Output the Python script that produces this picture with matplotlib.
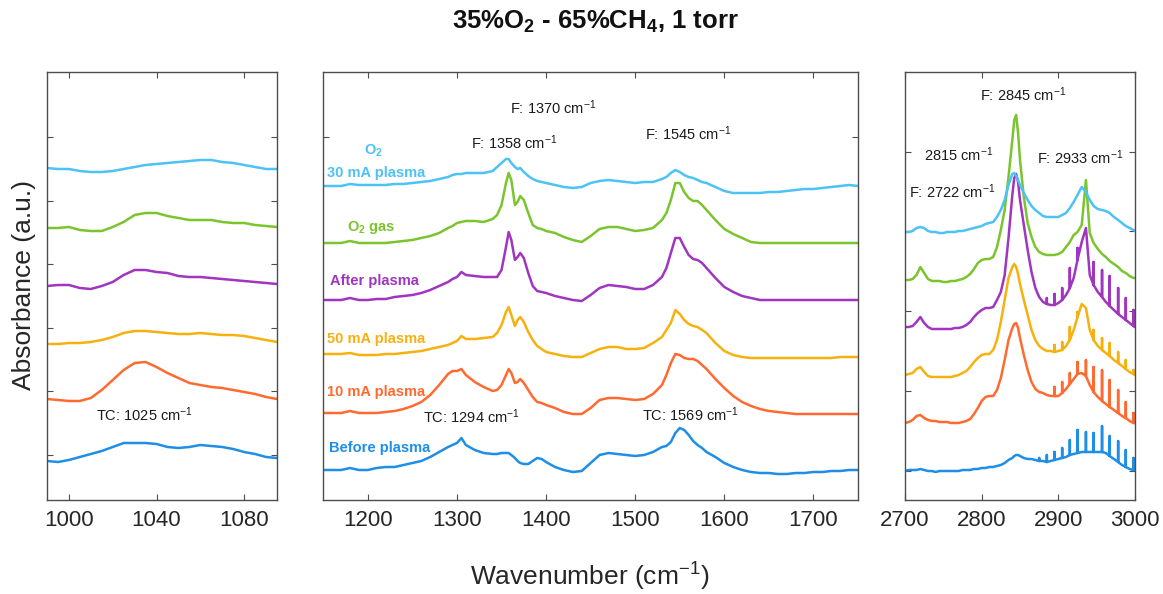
import matplotlib
matplotlib.use('Agg')
import matplotlib.pyplot as plt

plt.rcParams['font.family'] = ['Liberation Sans', 'DejaVu Sans']
plt.rcParams['mathtext.fontset'] = 'custom'
plt.rcParams['mathtext.rm'] = 'Liberation Sans'
plt.rcParams['mathtext.it'] = 'Liberation Sans:italic'
plt.rcParams['mathtext.bf'] = 'Liberation Sans:bold'

# traces, bottom to top
names = ['Before plasma', '10 mA plasma', '50 mA plasma', 'After plasma',
         r'O$_\mathbf{2}$ gas', '30 mA plasma']
colors = ['#1f8ee6', '#ff6a30', '#f7b10f', '#a035c0', '#7ac52e', '#4cc2f5']

# ---- 990-1095 cm-1 (absorbance, stacked, a.u.)
lo_x = [990, 995, 1000, 1005, 1010, 1015, 1020, 1025, 1030, 1035, 1040,
        1045, 1050, 1055, 1060, 1065, 1070, 1075, 1080, 1085, 1090, 1095]
lo_before = [39, 38, 40, 43, 46, 49, 53, 57, 57, 57, 56, 53, 52, 53, 55, 54, 53, 51, 48, 46, 43, 42]
lo_10ma = [101, 100, 99, 99, 102, 110, 120, 130, 137, 138, 133, 127, 122, 117, 115, 113, 112, 110, 108, 106, 103, 101]
lo_50ma = [156, 156, 157, 157, 158, 160, 163, 167, 169, 169, 168, 167, 166, 166, 167, 166, 165, 165, 164, 162, 160, 158]
lo_after = [214, 215, 215, 212, 211, 214, 218, 225, 230, 230, 228, 227, 224, 223, 223, 222, 221, 220, 219, 218, 217, 216]
lo_o2gas = [272, 272, 273, 270, 269, 269, 273, 278, 285, 287, 287, 284, 282, 280, 280, 280, 278, 277, 277, 275, 274, 273]
lo_o2plasma = [332, 331, 331, 329, 328, 328, 329, 331, 333, 335, 336, 337, 338, 339, 340, 340, 338, 337, 335, 333, 331, 331]

# ---- 1150-1750 cm-1
mid_x = [1150, 1160, 1170, 1180, 1190, 1200, 1210, 1220, 1230, 1240, 1250, 1260, 1270, 1280, 1290,
         1295, 1300, 1305, 1310, 1320, 1330, 1340,
         1345, 1350, 1355, 1358, 1361, 1365, 1368, 1371, 1375, 1380, 1385, 1390, 1395, 1400,
         1410, 1420, 1430, 1440, 1450, 1460, 1470, 1480, 1490, 1500, 1510, 1520,
         1530, 1535, 1540, 1545, 1550, 1555, 1560, 1565, 1570, 1575, 1580,
         1590, 1600, 1610, 1620, 1630, 1640, 1650, 1660, 1670, 1680, 1690, 1700, 1710, 1720, 1730, 1740, 1750]
mid_before = [30, 30, 30, 32, 30, 30, 32, 33, 33, 35, 37, 39, 43, 48, 53,
              55, 57, 62, 55, 50, 47, 46,
              46, 47, 47, 47, 45, 42, 39, 37, 36, 36, 39, 42, 41, 38,
              33, 30, 28, 29, 37, 45, 47, 46, 45, 44, 45, 48,
              53, 54, 58, 67, 72, 70, 65, 59, 55, 52, 48,
              43, 37, 33, 30, 28, 27, 27, 26, 26, 27, 27, 28, 28, 29, 29, 30, 30]
mid_10ma = [87, 87, 87, 89, 87, 87, 87, 88, 89, 91, 94, 98, 105, 115, 126,
            129, 129, 131, 125, 118, 113, 109,
            110, 115, 125, 131, 127, 117, 118, 121, 117, 110, 103, 98, 97, 95,
            92, 88, 86, 86, 92, 100, 102, 102, 101, 100, 101, 106,
            115, 125, 137, 146, 145, 142, 141, 141, 139, 135, 131,
            121, 112, 104, 98, 94, 91, 89, 88, 87, 86, 86, 86, 86, 86, 86, 86, 86]
mid_50ma = [146, 146, 146, 147, 145, 145, 145, 146, 146, 147, 148, 149, 151, 153, 155,
            157, 159, 164, 161, 161, 162, 163,
            167, 175, 188, 193, 185, 174, 180, 183, 178, 168, 160, 154, 151, 148,
            146, 144, 143, 143, 147, 151, 153, 153, 151, 151, 152, 157,
            163, 170, 177, 190, 186, 180, 176, 174, 173, 170, 167,
            157, 149, 145, 143, 142, 142, 142, 142, 142, 142, 142, 142, 142, 142, 143, 143, 143]
mid_after = [200, 200, 200, 202, 200, 200, 201, 201, 203, 204, 205, 207, 210, 214, 218,
             221, 223, 228, 225, 224, 223, 223,
             223, 230, 253, 268, 260, 240, 243, 247, 242, 227, 214, 209, 208, 207,
             204, 202, 200, 199, 205, 212, 215, 214, 213, 211, 211, 215,
             223, 232, 247, 262, 262, 253, 245, 241, 240, 237, 232,
             222, 213, 208, 204, 202, 200, 200, 200, 200, 200, 200, 200, 200, 200, 200, 200, 200]
mid_o2gas = [257, 257, 257, 259, 257, 257, 257, 257, 258, 259, 260, 262, 264, 267, 272,
             274, 277, 278, 279, 279, 278, 281,
             285, 295, 317, 327, 320, 295, 298, 304, 300, 287, 275, 272, 271, 269,
             267, 263, 260, 258, 264, 271, 273, 273, 271, 269, 270, 272,
             280, 287, 300, 317, 317, 308, 302, 299, 299, 295, 290,
             280, 271, 266, 262, 258, 257, 257, 257, 257, 257, 257, 257, 257, 257, 257, 257, 257]
mid_o2plasma = [314, 314, 314, 316, 315, 315, 315, 315, 316, 316, 317, 318, 319, 321, 323,
                325, 326, 326, 327, 327, 327, 329,
                333, 337, 341, 341, 337, 333, 331, 332, 328, 324, 321, 319, 318, 317,
                315, 313, 312, 313, 317, 319, 320, 319, 318, 317, 318, 318,
                321, 323, 327, 330, 328, 325, 323, 322, 320, 318, 317,
                313, 309, 307, 307, 307, 307, 308, 308, 309, 310, 311, 311, 312, 313, 314, 315, 314]

# ---- 2700-3000 cm-1
hi_x = [2700, 2705, 2710, 2715, 2720, 2725, 2730, 2735, 2740, 2745, 2750, 2755, 2760, 2765, 2770,
        2775, 2780, 2785, 2790, 2795, 2800, 2805, 2810, 2815, 2820, 2825, 2830, 2835, 2840,
        2842.5, 2845, 2847.5,
        2850, 2855, 2860, 2865, 2870, 2875, 2880, 2885, 2890, 2895, 2900, 2905, 2910, 2915, 2920, 2925,
        2930.5, 2936, 2941, 2946, 2951.5, 2957, 2962, 2967, 2972.5, 2978, 2983, 2988, 2993, 2998, 3000]
hi_before = [29, 30, 30, 30, 31, 30, 29, 29, 28, 29, 29, 29, 29, 29, 29,
             30, 30, 30, 31, 31, 32, 32, 33, 33, 34, 35, 37, 40, 42,
             44, 45, 45,
             44, 42, 41, 41, 40, 39, 39, 38, 39, 40, 41, 42, 43, 45, 46, 47,
             48, 48, 48, 48, 48, 48, 47, 44, 41, 38, 35, 33, 31, 30, 30]
hi_10ma = [77, 78, 80, 84, 85, 82, 80, 79, 79, 78, 78, 78, 77, 77, 77,
           78, 79, 81, 86, 92, 99, 103, 104, 104, 110, 122, 140, 160, 172,
           176, 177, 172,
           162, 145, 130, 118, 111, 108, 107, 105, 104, 104, 104, 107, 111, 116, 121, 126,
           127, 124, 115, 108, 103, 99, 96, 93, 90, 87, 84, 82, 79, 77, 77]
hi_50ma = [125, 126, 127, 131, 133, 128, 124, 123, 123, 123, 123, 123, 123, 124, 125,
           127, 129, 133, 138, 142, 145, 146, 146, 150, 160, 178, 200, 222, 233,
           236, 233, 226,
           216, 200, 185, 170, 160, 154, 151, 149, 149, 148, 149, 150, 154, 160, 170, 183,
           196, 192, 170, 160, 154, 150, 147, 144, 140, 137, 134, 131, 128, 126, 125]
hi_after = [173, 173, 174, 178, 183, 177, 173, 171, 171, 171, 171, 171, 171, 172, 172,
            173, 175, 178, 183, 187, 190, 192, 192, 193, 200, 208, 225, 262, 305,
            322, 326, 318,
            300, 275, 250, 228, 212, 203, 198, 196, 195, 195, 197, 200, 205, 212, 222, 240,
            258, 272, 225, 215, 208, 203, 198, 194, 190, 186, 183, 180, 177, 174, 173]
hi_o2gas = [220, 220, 221, 225, 233, 227, 221, 219, 219, 219, 218, 218, 219, 219, 220,
            221, 223, 226, 231, 237, 240, 241, 241, 243, 253, 270, 290, 323, 360,
            380, 385, 367,
            340, 303, 277, 263, 253, 248, 246, 245, 245, 245, 246, 248, 253, 258, 265, 268,
            275, 320, 267, 257, 251, 246, 243, 239, 236, 233, 229, 227, 224, 222, 222]
hi_o2plasma = [268, 268, 269, 272, 273, 272, 269, 268, 268, 267, 267, 268, 268, 268, 269,
               269, 270, 271, 272, 273, 274, 276, 277, 278, 283, 290, 300, 315, 326,
               327, 324, 320,
               315, 307, 300, 294, 290, 287, 284, 283, 283, 283, 283, 285, 287, 292, 298, 305,
               313, 308, 300, 294, 291, 290, 289, 287, 283, 280, 277, 274, 272, 270, 269]

# CH4 rotational lines and the top of each sharp line (None = no line)
ch4_lines = [2875, 2885, 2895, 2905, 2915, 2925, 2936, 2946, 2957, 2967, 2978, 2988, 2998]
spk_before = [42, 45, 48, 52, 60, 70, 68, 67, 74, 64, 59, 50, 42]
spk_10ma = [None, None, 113, 118, 127, 138, 140, 133, 130, 120, 110, 98, 87]
spk_50ma = [None, None, 155, 158, 173, 188, None, 170, 162, 157, 148, 140, 130]
spk_after = [None, 202, 206, 212, 232, 252, None, 238, 230, 224, 212, 202, 190]
spk_none = [None] * len(ch4_lines)

lo_all = [lo_before, lo_10ma, lo_50ma, lo_after, lo_o2gas, lo_o2plasma]
mid_all = [mid_before, mid_10ma, mid_50ma, mid_after, mid_o2gas, mid_o2plasma]
hi_all = [hi_before, hi_10ma, hi_50ma, hi_after, hi_o2gas, hi_o2plasma]
spk_all = [spk_before, spk_10ma, spk_50ma, spk_after, spk_none, spk_none]


def add_lines(x, y, tops):
    xs, ys = [], []
    for xi, yi in zip(x, y):
        xs.append(xi)
        ys.append(yi)
        if xi in ch4_lines and tops[ch4_lines.index(xi)] is not None:
            xs += [xi, xi]
            ys += [tops[ch4_lines.index(xi)], yi]
    return xs, ys


W, H = 1163, 594
fig = plt.figure(figsize=(W / 100, H / 100), dpi=100)
bot, top = 500, 72
ax_lo = fig.add_axes([47 / W, 1 - bot / H, 230 / W, (bot - top) / H])
ax_mid = fig.add_axes([323.3 / W, 1 - bot / H, 534.7 / W, (bot - top) / H])
ax_hi = fig.add_axes([905 / W, 1 - bot / H, 230 / W, (bot - top) / H])

for i in range(6):
    ax_lo.plot(lo_x, lo_all[i], color=colors[i], lw=1.8)
    ax_mid.plot(mid_x, mid_all[i], color=colors[i], lw=1.8)
    xs, ys = add_lines(hi_x, hi_all[i], spk_all[i])
    ax_hi.plot(xs, ys, color=colors[i], lw=1.8)

edge = '#4d4d4d'
for ax in (ax_lo, ax_mid, ax_hi):
    ax.set_ylim(0, 428)
    for s in ax.spines.values():
        s.set_color(edge)
        s.set_linewidth(1.0)
    ax.tick_params(direction='in', top=True, right=True, length=4, color=edge,
                   labelsize=16, labelcolor='#262626', pad=7, labelleft=False)

ax_lo.set_xlim(990, 1095)
ax_lo.set_xticks([1000, 1040, 1080])
ax_lo.set_yticks([45, 108.6, 172.2, 235.8, 299.4, 363])
ax_mid.set_xlim(1150, 1750)
ax_mid.set_xticks([1200, 1300, 1400, 1500, 1600, 1700])
ax_mid.set_yticks([363])
ax_hi.set_xlim(2700, 3000)
ax_hi.set_xticks([2700, 2800, 2900, 3000])
ax_hi.set_yticks([29.5, 109.2, 188.9, 268.6, 348.3])

# trace names in the middle panel
name_pos = [(1213, 52), (1209, 108), (1209, 161), (1207, 219), (1204, 273), (1209, 327)]
for i in range(6):
    ax_mid.text(name_pos[i][0], name_pos[i][1], names[i], color=colors[i],
                fontsize=10.5, fontweight='bold', ha='center', va='center')
ax_mid.text(1206, 349, r'O$_\mathbf{2}$', color=colors[5], fontsize=10.5,
            fontweight='bold', ha='center', va='center')

ann = dict(fontsize=10.5, color='#1a1a1a', ha='center', va='center')
ax_lo.text(1034.7, 85, r'TC: 1025 cm$^{-1}$', **ann)
ax_mid.text(1364, 357, r'F: 1358 cm$^{-1}$', **ann)
ax_mid.text(1407.6, 392, r'F: 1370 cm$^{-1}$', **ann)
ax_mid.text(1559.5, 366, r'F: 1545 cm$^{-1}$', **ann)
ax_mid.text(1315.8, 83, r'TC: 1294 cm$^{-1}$', **ann)
ax_mid.text(1561.6, 85, r'TC: 1569 cm$^{-1}$', **ann)
ax_hi.text(2853.8, 405, r'F: 2845 cm$^{-1}$', **ann)
ax_hi.text(2770.4, 345, r'2815 cm$^{-1}$', **ann)
ax_hi.text(2928, 342, r'F: 2933 cm$^{-1}$', **ann)
ax_hi.text(2761, 308, r'F: 2722 cm$^{-1}$', **ann)

fig.text(595 / W, 1 - 22 / H, r'35%O$_\mathbf{2}$ - 65%CH$_\mathbf{4}$, 1 torr',
         fontsize=18.5, fontweight='bold', ha='center', va='center', color='#111111')
fig.text(590 / W, 1 - 577 / H, r'Wavenumber (cm$^{-1}$)', fontsize=19,
         ha='center', va='center', color='#262626')
fig.text(24 / W, 1 - 285 / H, 'Absorbance (a.u.)', fontsize=19, rotation=90,
         ha='center', va='center', color='#262626')

fig.savefig('out.png', dpi=100)
